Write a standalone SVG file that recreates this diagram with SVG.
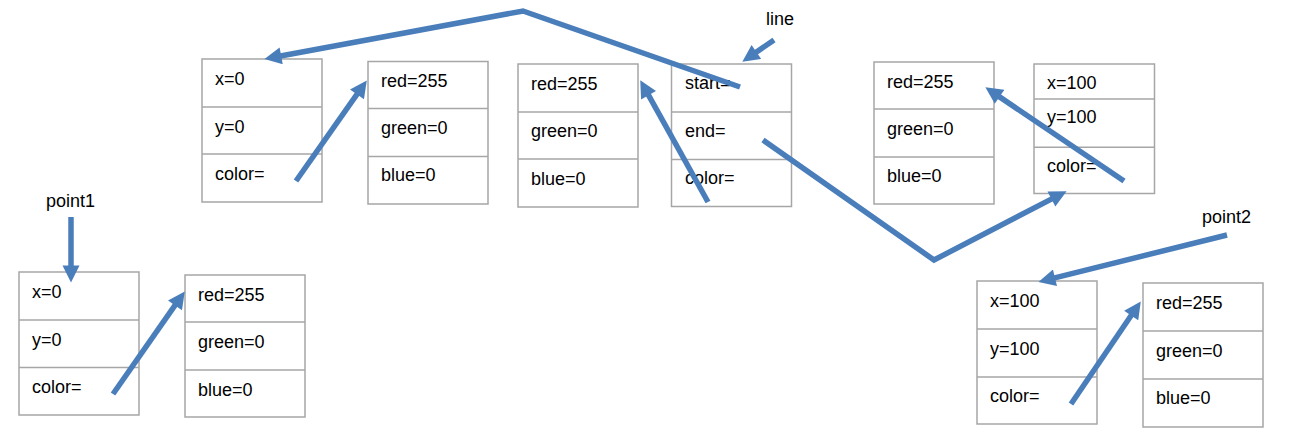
<svg xmlns="http://www.w3.org/2000/svg" width="1294" height="435" viewBox="0 0 1294 435">
<style>
.box{fill:#fff;stroke:#a6a6a6;stroke-width:1.5}
.sep{stroke:#a6a6a6;stroke-width:1.5}
text{font-family:"Liberation Sans",Arial,sans-serif;font-size:18px;fill:#000}
.con{fill:none;stroke:#4a7ebb;stroke-width:5.5;marker-end:url(#ah)}
</style>
<defs>
<marker id="ah" viewBox="0 0 10 10" refX="4.4" refY="5" markerWidth="3.3" markerHeight="3.1" orient="auto">
<path d="M0,0 L10,5 L0,10 z" fill="#4a7ebb"/>
</marker>
</defs>
<rect width="1294" height="435" fill="#fff"/>
<g id="point1-label"><text x="46" y="207">point1</text></g>
<g id="line-label"><text x="766" y="25">line</text></g>
<g id="point2-label"><text x="1202" y="223">point2</text></g>
<g id="point1">
<rect class="box" x="19" y="272" width="120" height="143"/>
<line class="sep" x1="19" y1="320" x2="139" y2="320"/>
<line class="sep" x1="19" y1="367.5" x2="139" y2="367.5"/>
<text x="32" y="297.5">x=0</text><text x="32" y="345.5">y=0</text><text x="32" y="393">color=</text>
</g>
<g id="point1-color">
<rect class="box" x="185" y="275" width="120" height="142"/>
<line class="sep" x1="185" y1="322" x2="305" y2="322"/>
<line class="sep" x1="185" y1="370" x2="305" y2="370"/>
<text x="198" y="300.5">red=255</text><text x="198" y="347.5">green=0</text><text x="198" y="395.5">blue=0</text>
</g>
<g id="line-start">
<rect class="box" x="202" y="59" width="120" height="143"/>
<line class="sep" x1="202" y1="107" x2="322" y2="107"/>
<line class="sep" x1="202" y1="154" x2="322" y2="154"/>
<text x="215" y="84.5">x=0</text><text x="215" y="132.5">y=0</text><text x="215" y="179.5">color=</text>
</g>
<g id="line-start-color">
<rect class="box" x="368" y="61.5" width="120" height="142.5"/>
<line class="sep" x1="368" y1="108.5" x2="488" y2="108.5"/>
<line class="sep" x1="368" y1="156.5" x2="488" y2="156.5"/>
<text x="381" y="87">red=255</text><text x="381" y="134">green=0</text><text x="381" y="181">blue=0</text>
</g>
<g id="line-color">
<rect class="box" x="518" y="64" width="120" height="143"/>
<line class="sep" x1="518" y1="112" x2="638" y2="112"/>
<line class="sep" x1="518" y1="159" x2="638" y2="159"/>
<text x="531" y="89.5">red=255</text><text x="531" y="137">green=0</text><text x="531" y="184.5">blue=0</text>
</g>
<g id="line">
<rect class="box" x="671.5" y="64" width="120" height="142.5"/>
<line class="sep" x1="671.5" y1="112" x2="791.5" y2="112"/>
<line class="sep" x1="671.5" y1="159.5" x2="791.5" y2="159.5"/>
<text x="685" y="89">start=</text><text x="685" y="136.5">end=</text><text x="685" y="184">color=</text>
</g>
<g id="line-end-color">
<rect class="box" x="874" y="62" width="120" height="142"/>
<line class="sep" x1="874" y1="109" x2="994" y2="109"/>
<line class="sep" x1="874" y1="157" x2="994" y2="157"/>
<text x="887" y="87.5">red=255</text><text x="887" y="134.5">green=0</text><text x="887" y="182">blue=0</text>
</g>
<g id="line-end">
<rect class="box" x="1034" y="64" width="120.5" height="129.5"/>
<line class="sep" x1="1034" y1="99" x2="1154.5" y2="99"/>
<line class="sep" x1="1034" y1="147.3" x2="1154.5" y2="147.3"/>
<text x="1047" y="89">x=100</text><text x="1047" y="123.3">y=100</text><text x="1047" y="172.3">color=</text>
</g>
<g id="point2">
<rect class="box" x="977" y="281" width="120" height="143"/>
<line class="sep" x1="977" y1="329" x2="1097" y2="329"/>
<line class="sep" x1="977" y1="377" x2="1097" y2="377"/>
<text x="990" y="306.5">x=100</text><text x="990" y="354.5">y=100</text><text x="990" y="402">color=</text>
</g>
<g id="point2-color">
<rect class="box" x="1143" y="283" width="120" height="144"/>
<line class="sep" x1="1143" y1="331" x2="1263" y2="331"/>
<line class="sep" x1="1143" y1="379" x2="1263" y2="379"/>
<text x="1156" y="308.5">red=255</text><text x="1156" y="356.5">green=0</text><text x="1156" y="404">blue=0</text>
</g>
<g id="connectors">
<path class="con" d="M71,217 L71,273"/>
<path class="con" d="M113,394 L179.3,299.2"/>
<path class="con" d="M296,181 L361.3,88.2"/>
<path class="con" d="M708,202 L644.9,88.7"/>
<path class="con" d="M774,40 L750.2,56.3"/>
<path class="con" d="M740,87 L523,11 L273.8,57.2"/>
<path class="con" d="M763,140 L934,260 L1058.1,195.6"/>
<path class="con" d="M1124,181 L993.3,92.6"/>
<path class="con" d="M1227,235 L1047.7,279.6"/>
<path class="con" d="M1071,404 L1135.4,309.3"/>
</g>
</svg>
